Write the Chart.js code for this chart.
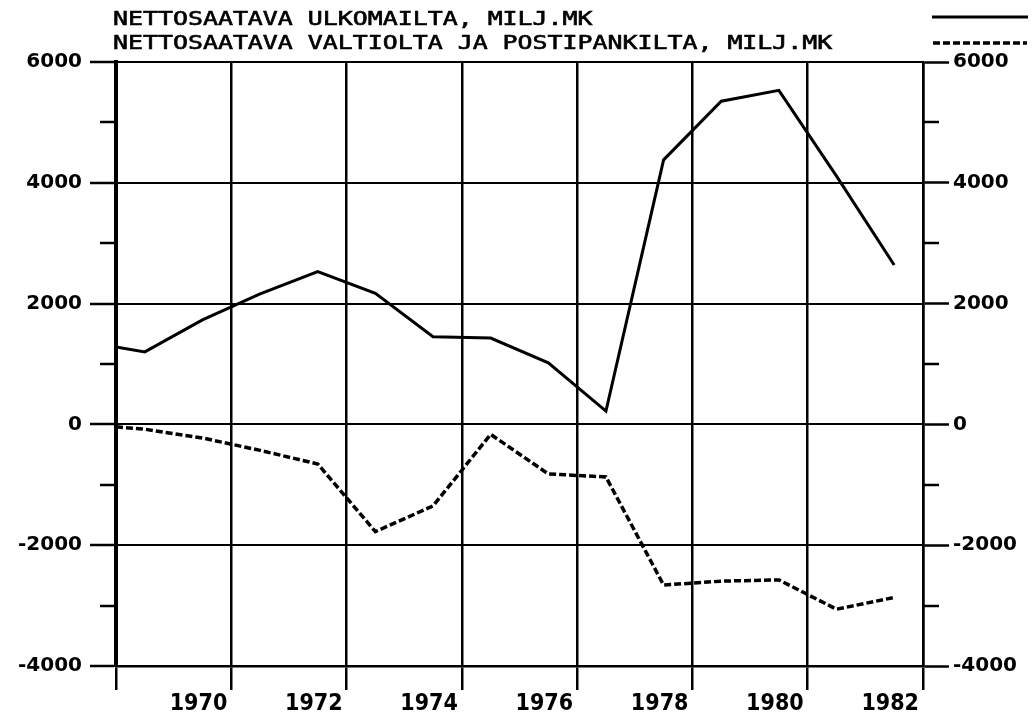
<!DOCTYPE html>
<html><head><meta charset="utf-8">
<script src="https://cdn.jsdelivr.net/npm/chart.js@4.4.1/dist/chart.umd.min.js"></script>
<style>html,body{margin:0;padding:0;background:#fff;} #wrap{width:1034px;height:723px;position:relative;}</style>
</head><body><div id="wrap"><canvas id="c" width="1034" height="723"></canvas></div>
<script>
// ---- data ----
const years = [1968, 1968.5, 1969.5, 1970.5, 1971.5, 1972.5, 1973.5, 1974.5, 1975.5, 1976.5, 1977.5, 1978.5, 1979.5, 1980.5, 1981.5];
const ulkomailta = [1280, 1200, 1730, 2160, 2530, 2170, 1450, 1430, 1020, 220, 4380, 5350, 5530, 4110, 2640];
const valtiolta = [-40, -80, -225, -430, -655, -1775, -1350, -165, -820, -870, -2660, -2595, -2575, -3060, -2865];
const legendLabels = ['NETTOSAATAVA ULKOMAILTA, MILJ.MK', 'NETTOSAATAVA VALTIOLTA JA POSTIPANKILTA, MILJ.MK'];
const yTickValues = [-4000, -2000, 0, 2000, 4000, 6000];
const yMinorValues = [-3000, -1000, 1000, 3000, 5000];
const xTickValues = [1968, 1970, 1972, 1974, 1976, 1978, 1980, 1982];
const xTickLabels = ['', '1970', '1972', '1974', '1976', '1978', '1980', '1982'];

const toPts = (xs, ys) => xs.map((x, i) => ({x: x, y: ys[i]}));

const minorTicks = {
  id: 'minorTicks',
  afterDraw(chart) {
    const ctx = chart.ctx, y = chart.scales.y, a = chart.chartArea;
    ctx.save();
    ctx.strokeStyle = '#000'; ctx.lineWidth = 2.5;
    yMinorValues.forEach(v => {
      const py = Math.round(y.getPixelForValue(v));
      ctx.beginPath();
      ctx.moveTo(a.left - 16, py); ctx.lineTo(a.left, py);
      ctx.moveTo(a.right, py); ctx.lineTo(a.right + 16, py);
      ctx.stroke();
    });
    ctx.restore();
  }
};

const topLegend = {
  id: 'topLegend',
  afterDraw(chart) {
    const ctx = chart.ctx;
    ctx.save();
    ctx.fillStyle = '#000';
    ctx.strokeStyle = '#000';
    ctx.lineWidth = 0.6;
    ctx.font = '19px "DejaVu Sans Mono"';
    ctx.textBaseline = 'alphabetic';
    ctx.textAlign = 'left';
    const baselines = [25, 48.5];
    legendLabels.forEach((t, i) => {
      ctx.save();
      ctx.translate(113, baselines[i]);
      ctx.scale(1.31, 1);
      ctx.fillText(t, 0, 0);
      ctx.strokeText(t, 0, 0);
      ctx.restore();
    });
    ctx.lineWidth = 3;
    ctx.beginPath(); ctx.moveTo(932, 17); ctx.lineTo(1028, 17); ctx.stroke();
    ctx.lineWidth = 3.5;
    ctx.setLineDash([7, 3]);
    ctx.beginPath(); ctx.moveTo(933, 43); ctx.lineTo(1027, 43); ctx.stroke();
    ctx.restore();
  }
};

const yFont = {family: '"DejaVu Sans"', size: 20, weight: 'bold'};

new Chart(document.getElementById('c'), {
  type: 'line',
  data: {
    datasets: [
      {label: legendLabels[0], data: toPts(years, ulkomailta), borderColor: '#000', borderWidth: 3, pointRadius: 0, tension: 0, fill: false},
      {label: legendLabels[1], data: toPts(years, valtiolta), borderColor: '#000', borderWidth: 3.5, borderDash: [7, 3], pointRadius: 0, tension: 0, fill: false}
    ]
  },
  options: {
    responsive: false,
    animation: false,
    layout: {padding: {top: 62, left: 0, right: 0, bottom: 0}},
    plugins: {legend: {display: false}, tooltip: {enabled: false}},
    scales: {
      x: {
        type: 'linear', min: 1968, max: 1982,
        afterFit: s => { s.height = 57; },
        afterBuildTicks: s => { s.ticks = xTickValues.map(v => ({value: v})); },
        ticks: {
          callback: (v, i) => xTickLabels[i],
          align: 'end', labelOffset: -4, padding: 0, maxRotation: 0, autoSkip: false,
          color: '#000',
          font: {family: '"Liberation Sans Narrow", "DejaVu Sans Condensed", "DejaVu Sans"', size: 23, weight: 'bold'}
        },
        grid: {color: '#000', lineWidth: 2.5, tickLength: 24, tickWidth: 2.5, tickColor: '#000', drawTicks: true},
        border: {color: '#000', width: 2.5}
      },
      y: {
        type: 'linear', position: 'left', min: -4000, max: 6000,
        afterFit: s => { s.width = 116; },
        afterBuildTicks: s => { s.ticks = yTickValues.map(v => ({value: v})); },
        ticks: {color: '#000', font: yFont, padding: 8, callback: v => String(v)},
        grid: {color: '#000', lineWidth: 2, tickLength: 26, tickWidth: 2.5, tickColor: '#000'},
        border: {color: '#000', width: 4}
      },
      y2: {
        type: 'linear', position: 'right', min: -4000, max: 6000,
        afterFit: s => { s.width = 111; },
        afterBuildTicks: s => { s.ticks = yTickValues.map(v => ({value: v})); },
        ticks: {color: '#000', font: yFont, padding: 4, callback: v => String(v)},
        grid: {drawOnChartArea: false, tickLength: 26, tickWidth: 2.5, tickColor: '#000'},
        border: {color: '#000', width: 2.5}
      }
    }
  },
  plugins: [minorTicks, topLegend]
});
</script></body></html>
